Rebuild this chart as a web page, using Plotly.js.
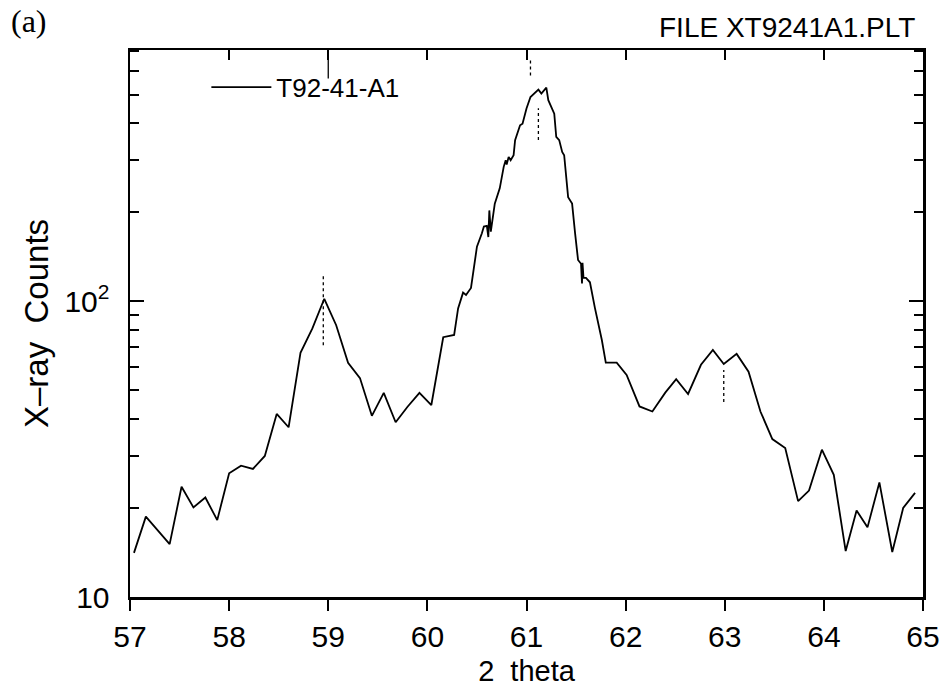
<!DOCTYPE html>
<html>
<head>
<meta charset="utf-8">
<script src="https://cdn.plot.ly/plotly-3.0.1.min.js"></script>
<style>
  html, body { margin: 0; padding: 0; background: #fff; }
  #chart { width: 947px; height: 687px; }
</style>
</head>
<body>
<div id="chart"></div>
<script>
// ---- data ----
const seriesName = "T92-41-A1";

const twoTheta = [
  57.04, 57.16, 57.40, 57.52, 57.64, 57.76, 57.88, 58.00, 58.12, 58.24,
  58.36, 58.48, 58.60, 58.72, 58.84, 58.96, 59.08, 59.20, 59.32, 59.44,
  59.56, 59.68, 59.80, 59.92, 60.04, 60.16, 60.27,
  60.31, 60.36, 60.39, 60.44, 60.46, 60.50, 60.55, 60.57, 60.60, 60.615,
  60.625, 60.64, 60.68, 60.73, 60.77, 60.79, 60.80, 60.82, 60.84, 60.87,
  60.885, 60.90, 60.935, 60.96, 61.00, 61.04, 61.09, 61.12, 61.15, 61.20,
  61.22, 61.26, 61.28, 61.30, 61.33, 61.36, 61.38, 61.42, 61.46, 61.49,
  61.52, 61.55, 61.56, 61.565, 61.575, 61.60, 61.64, 61.69, 61.76, 61.80,
  61.91, 62.01, 62.14, 62.27, 62.40, 62.51, 62.63, 62.76, 62.88, 62.99,
  63.12, 63.24, 63.36, 63.48, 63.61, 63.74, 63.85, 63.98, 64.10, 64.22,
  64.33, 64.44, 64.56, 64.69, 64.80, 64.92
];

const counts = [
  14.1, 18.7, 15.1, 23.6, 20.1, 21.7, 18.2, 26.2, 27.8, 27.1,
  30.0, 41.6, 37.5, 67, 81, 102, 83, 62, 55, 41,
  49, 39, 44, 49, 44.6, 75.6, 77,
  94.6, 107, 105, 111, 124, 153, 170, 179, 180, 165,
  203, 172, 214, 241, 285, 300, 290, 308, 300, 312,
  351, 365, 394, 399, 449, 491, 510, 520, 504, 528,
  479, 443, 431, 360, 351, 320, 312, 225, 214, 170,
  138, 134, 115, 135, 120, 120, 116, 95, 74, 62,
  62, 56.4, 44.1, 42.4, 49.1, 54.5, 48.6, 61, 68.5, 61.4,
  66.4, 57.8, 42.4, 34.2, 31.9, 21.1, 22.9, 31.5, 25.9, 14.3,
  19.6, 17.2, 24.4, 14.2, 20.0, 22.5
];

// dotted peak markers (x, y pairs separated by null)
const peakMarkX = [58.95, 58.95, null, 61.04, 61.04, null, 61.12, 61.12, null, 62.99, 62.99];
const peakMarkY = [71, 122, null, 581, 653, null, 351, 450, null, 45.7, 58.6];
// long top tick at 59
const topMarkX = [59.0, 59.0];
const topMarkY = [567, 708];

const xTicks = [57, 58, 59, 60, 61, 62, 63, 64, 65];
const xTopTicks = [58, 59, 60, 61, 62, 63, 64];
const yMajorTicks = [10, 100];
const yMajorText = ["10", "10<sup>2</sup>"];
const yMinorTicks = [20, 30, 40, 50, 60, 70, 80, 90, 200, 300, 400, 500, 600, 700];

const xTitle = "2  theta";
const yTitle = "X\u2013ray  Counts";
const panelLabel = "(a)";
const fileLabel = "FILE XT9241A1.PLT";

// ---- chart ----
const FONT = "Liberation Sans, Arial, sans-serif";

const traces = [
  {
    x: twoTheta, y: counts, type: "scatter", mode: "lines",
    name: seriesName,
    line: { color: "#000", width: 1.8 },
    showlegend: true
  },
  {
    x: peakMarkX, y: peakMarkY, type: "scatter", mode: "lines",
    line: { color: "#000", width: 1.3, dash: "dot" },
    showlegend: false, hoverinfo: "skip", connectgaps: false,
    xaxis: "x2"
  },
  {
    x: topMarkX, y: topMarkY, type: "scatter", mode: "lines",
    line: { color: "#000", width: 1.3 },
    showlegend: false, hoverinfo: "skip",
    xaxis: "x2"
  }
];

const layout = {
  width: 947, height: 687,
  margin: { l: 130, r: 24, t: 50, b: 90 },
  paper_bgcolor: "#fff", plot_bgcolor: "#fff",
  font: { family: FONT, color: "#000" },
  showlegend: true,
  legend: {
    x: 0.0963, y: 0.975, xanchor: "left", yanchor: "top",
    itemwidth: 60,
    bgcolor: "rgba(0,0,0,0)", borderwidth: 0,
    font: { family: FONT, size: 26, color: "#000" }
  },
  xaxis: {
    range: [57, 65], type: "linear",
    tickmode: "array", tickvals: xTicks, ticktext: xTicks.map(String),
    ticks: "outside", ticklen: 11, tickwidth: 2, tickcolor: "#000",
    showline: true, linewidth: 2.5, linecolor: "#000",
    showgrid: false, zeroline: false,
    tickfont: { family: FONT, size: 30, color: "#000" },
    ticklabelstandoff: 0,
    title: { text: xTitle, font: { family: FONT, size: 29, color: "#000" }, standoff: 16 }
  },
  xaxis2: {
    range: [57, 65], overlaying: "x", side: "top", anchor: "y",
    tickmode: "array", tickvals: xTopTicks, showticklabels: false,
    ticks: "inside", ticklen: 10, tickwidth: 2, tickcolor: "#000",
    showline: true, linewidth: 2.5, linecolor: "#000",
    showgrid: false, zeroline: false
  },
  yaxis: {
    type: "log", range: [1, 2.85],
    tickmode: "array", tickvals: yMajorTicks, ticktext: yMajorText,
    ticks: "inside", ticklen: 14, tickwidth: 2, tickcolor: "#000",
    minor: { tickmode: "array", tickvals: yMinorTicks, ticks: "inside", ticklen: 9, tickwidth: 2, tickcolor: "#000", showgrid: false },
    showline: true, linewidth: 2.5, linecolor: "#000", mirror: "ticks",
    showgrid: false, zeroline: false,
    tickfont: { family: FONT, size: 30, color: "#000" },
    ticklabelstandoff: 12,
    title: { text: yTitle, font: { family: FONT, size: 33, color: "#000" }, standoff: 6 }
  },
  annotations: [
    {
      text: panelLabel, xref: "paper", yref: "paper",
      x: -0.153, y: 1.053, xanchor: "left", yanchor: "middle",
      showarrow: false,
      font: { family: "Liberation Serif, Times New Roman, serif", size: 32, color: "#000" }
    },
    {
      text: fileLabel, xref: "paper", yref: "paper",
      x: 0.992, y: 1.042, xanchor: "right", yanchor: "middle",
      showarrow: false,
      font: { family: FONT, size: 28, color: "#000" }
    }
  ]
};

Plotly.newPlot("chart", traces, layout, { staticPlot: true, displayModeBar: false });
</script>
</body>
</html>
